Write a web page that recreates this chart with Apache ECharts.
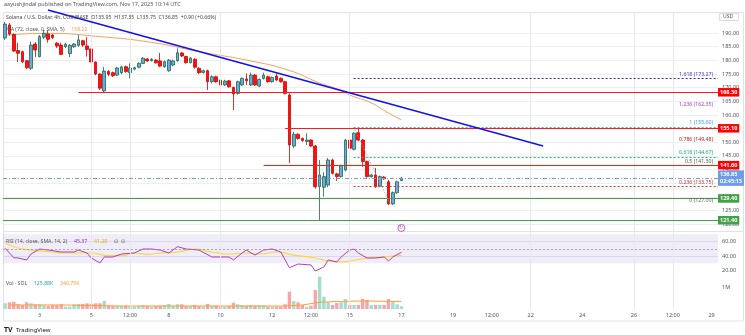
<!DOCTYPE html>
<html><head><meta charset="utf-8">
<script src="https://cdn.jsdelivr.net/npm/echarts@6/dist/echarts.min.js"></script>
<style>html,body{margin:0;padding:0;background:#fff}#c{width:745px;height:335px}</style>
</head><body><div id="c"></div>
<script>
// ---------- data ----------
const slotCount = 166;
const candleOpen  = [188.2,193.0,189.5,183.6,183.2,179.9,177.1,186.0,181.4,188.5,189.7,189.3,186.3,185.6,185.0,182.5,185.0,185.5,187.2,185.3,184.2,179.4,175.0,168.8,175.9,175.5,174.6,175.5,177.7,175.5,176.8,177.5,178.9,180.5,179.9,180.1,179.8,177.7,176.2,178.3,179.9,182.7,181.4,179.2,180.4,177.1,175.6,176.2,172.2,174.0,172.8,171.0,172.5,170.1,167.9,171.0,173.2,171.0,174.6,170.6,173.4,174.0,172.2,174.3,173.4,172.2,167.3,148.6,152.9,151.4,150.3,150.8,148.6,133.7,133.5,134.3,143.5,138.4,137.4,139.8,150.8,147.4,153.5,150.8,142.9,137.4,138.0,133.9,137.2,135.5,127.4,131.5,135.95];
const candleHigh  = [194.1,193.7,189.9,186.4,183.6,180.1,186.8,186.7,189.3,191.1,191.1,189.7,186.7,186.5,186.5,186.0,186.4,189.3,187.5,188.6,184.9,179.6,175.2,177.6,176.5,175.9,177.6,178.0,178.1,178.9,177.7,179.3,181.2,180.9,180.8,180.5,182.7,180.0,180.5,180.3,184.4,183.1,181.7,181.2,180.8,177.5,176.6,176.6,174.5,174.4,173.2,172.9,172.8,170.4,172.5,173.8,175.2,175.5,175.0,173.4,175.5,174.4,174.1,175.2,173.8,172.5,167.9,153.8,153.3,151.7,153.3,151.2,149.0,143.5,139.0,144.2,144.0,138.8,141.8,151.2,151.0,153.7,155.2,151.2,143.3,138.4,140.6,137.8,137.6,136.2,131.9,135.9,137.35];
const candleLow   = [187.5,189.0,183.1,179.4,179.0,176.8,176.5,181.2,181.1,187.8,186.5,187.8,184.5,182.0,184.5,181.2,184.6,184.9,185.0,181.4,178.7,174.6,169.1,168.0,174.2,173.9,174.2,175.0,175.5,173.4,176.4,177.1,178.6,179.5,179.6,178.8,177.5,177.3,175.8,177.9,179.5,181.2,178.8,178.8,177.0,175.0,175.1,169.1,171.5,171.8,169.1,170.6,170.0,161.8,167.5,170.6,171.0,170.6,170.6,170.2,173.0,171.8,171.8,172.4,171.8,167.5,142.4,147.9,151.0,150.2,149.0,148.2,133.0,121.5,130.0,133.5,138.2,135.8,137.0,139.4,147.4,147.0,150.4,141.0,137.0,137.0,133.3,133.5,136.2,127.0,127.0,131.1,135.75];
const candleClose = [193.3,189.7,183.4,182.6,179.5,177.3,185.6,183.8,188.7,189.9,187.7,188.4,185.3,182.2,185.9,185.5,186.0,187.5,185.6,184.0,179.4,175.0,169.8,176.1,174.9,174.4,177.2,177.6,175.9,177.2,177.3,178.9,180.8,179.8,180.4,179.1,177.9,179.5,180.1,179.8,182.8,181.6,179.2,180.8,177.5,175.5,176.2,172.2,174.0,172.2,171.0,172.4,170.3,167.7,172.2,173.4,172.5,174.6,171.0,173.0,174.6,172.2,173.7,172.8,172.2,167.9,149.0,152.9,151.4,150.6,150.8,148.6,133.7,138.0,137.4,143.5,138.6,137.4,141.4,150.8,147.8,153.3,150.8,142.9,137.4,138.0,133.7,137.4,136.6,127.4,131.5,135.5,136.85];
const volumeK = [259,305,332,214,182,305,259,214,214,182,137,182,182,214,105,105,214,228,228,259,228,259,259,364,150,137,137,137,150,137,105,137,182,137,105,137,150,182,228,137,214,214,137,137,182,137,105,228,137,150,137,105,137,287,214,182,137,182,150,168,168,105,105,105,105,214,787,364,305,182,105,150,865,1470,560,305,182,273,305,455,182,182,182,455,410,182,182,182,182,455,364,214,125.88];
const maPoints = [[0,189.3],[10,189.9],[22,188.7],[34,186.6],[45,183.2],[57,179.8],[66,176.3],[73,171.7],[78,169.0],[80,167.3],[85,164.4],[89,160.7],[92,158.22]];
const rsiPoints = [[0,50.7],[1,44.2],[2,37.7],[3,37.3],[5,34.6],[6,42.8],[8,49.7],[10,48.3],[13,45.6],[16,45.6],[17,48.3],[19,44.2],[20,37.3],[22,30.4],[23,38.7],[25,38.7],[27,42.8],[30,44.2],[32,49.7],[34,49.7],[36,48.3],[38,44.2],[40,52.9],[42,49.7],[45,48.3],[48,38.7],[50,38.7],[52,38.7],[53,34.6],[55,44.2],[56,48.3],[58,41.4],[60,48.3],[62,49.7],[64,45.6],[66,23.9],[68,29.0],[71,27.7],[72,19.4],[74,24.9],[75,34.6],[77,31.8],[78,38.7],[80,48.3],[81,49.7],[82,44.2],[84,37.3],[86,37.3],[88,38.7],[89,33.2],[90,38.7],[92,45.37]];
const rsiMaPoints = [[0,58.0],[3,51.1],[6,48.3],[11,45.6],[14,44.2],[20,44.2],[24,40.5],[27,40.5],[30,44.2],[33,42.4],[36,44.2],[40,45.6],[44,49.7],[48,45.6],[52,42.8],[56,44.2],[59,42.8],[63,45.6],[67,41.4],[72,37.3],[77,31.8],[80,33.2],[84,37.3],[88,38.7],[92,41.28]];
const volMaPoints = [[1,182],[13,182],[27,137],[45,137],[65,137],[69,182],[73,305],[77,341],[83,364],[92,340.75]];
const xTickIdx  = [8,20,29,38,50,62,71,80,92,104,113,122,134,146,155,164];
const xTickText = ['3','5','12:00','8','10','12','12:00','15','17','19','12:00','22','24','26','12:00','29'];
const xGridIdx  = [20,29,50,80,122,146,155];
const redLevels = [168.30,155.10,141.60];
const redStartIdx = [17,65,60];
const greenLevels = [129.40,121.40];
const lastPrice = 136.85;
const fibRatios = ['1.618','1.236','1','0.786','0.618','0.5','0.236','0'];
const fibValues = [173.27,162.35,155.60,149.48,144.67,141.30,133.75,127.00];
const fibLineColors = ['#2b2bd6',null,'#4aa8e8',null,'#22b58c',null,'#e53935',null];
const fibTextColors = ['#3a3ad0','#9c3fc0','#3b9be0','#b71c1c','#1ea37c','#555','#d32f2f','#666'];
const fibStartIdx = 80.9;
const fibDiagonal = [[80.9,155.6],[89.5,127.0]];
const trendLine = [[9.95,198.47],[124.9,148.6]];

// ---------- build ----------
const FONT = 'Noto Sans';
const TXT = '#50535e';
const cats = Array.from({length:slotCount},(_,i)=>String(i));
const labelCats = Array.from({length:slotCount},(_,i)=>{const k=xTickIdx.indexOf(i);return k>=0?xTickText[k]:'';});
const candles = candleOpen.map((o,i)=>[o,candleClose[i],candleLow[i],candleHigh[i]]);
const volBars = volumeK.map((v,i)=>({value:v,itemStyle:{color:candleClose[i]>=candleOpen[i]?'#a6dccd':'#f5a6a9'}}));
const END = slotCount-0.5;

const boxLabel = (txt,bg)=>({show:true,position:'end',distance:0,formatter:txt,backgroundColor:bg,color:'#fff',fontSize:5.5,fontWeight:'bold',fontFamily:FONT,padding:[1.5,2,1,2]});
const levelLines = [];
redLevels.forEach((v,k)=>levelLines.push([{coord:[redStartIdx[k],v],lineStyle:{color:'#ff1a1a',width:1.2,type:'solid'},label:boxLabel(v.toFixed(2),'#ff0000')},{coord:[END,v]}]));
greenLevels.forEach(v=>levelLines.push([{coord:[-0.5,v],lineStyle:{color:'#43a047',width:1.2,type:'solid'},label:boxLabel(v.toFixed(2),'#43a047')},{coord:[END,v]}]));
levelLines.push([{coord:[-0.5,lastPrice],lineStyle:{color:'#6f9ce8',width:1,type:[4,2,1,2]},label:Object.assign(boxLabel(lastPrice.toFixed(2)+'\n02:45:13','#6f9ce8'),{lineHeight:6.5})},{coord:[END,lastPrice]}]);
fibValues.forEach((v,k)=>{
  const lc = fibLineColors[k];
  levelLines.push([{coord:[fibStartIdx,v],lineStyle:{color:lc||'rgba(255,255,255,0)',width:1,type:[2,2]},
    label:{show:true,position:'insideEndTop',distance:[5,1.5],formatter:fibRatios[k]+' ('+v.toFixed(2)+')',color:fibTextColors[k],fontSize:5.2,fontFamily:FONT}},{coord:[END,v]}]);
});
levelLines.push([{coord:trendLine[0],lineStyle:{color:'#1212f0',width:1.6,type:'solid'},label:{show:false}},{coord:trendLine[1]}]);
levelLines.push([{coord:fibDiagonal[0],lineStyle:{color:'#9a9a9a',width:0.8,type:[1.5,1.5]},label:{show:false}},{coord:fibDiagonal[1]}]);

const mainSplitColors = Array.from({length:17},(_,k)=>k>=15?'rgba(0,0,0,0)':'#eceef2');
const chart = echarts.init(document.getElementById('c'),null,{renderer:'canvas'});
chart.setOption({
  animation:false,
  backgroundColor:'#fff',
  textStyle:{fontFamily:FONT},
  grid:[
    {left:3,right:27,top:5.81,height:218.28},
    {left:3,right:27,top:227.05,height:58},
    {left:3,right:27,top:276,height:33},
    {left:3,right:27,top:12.5,height:296.5}
  ],
  xAxis:[
    {type:'category',gridIndex:0,data:cats,boundaryGap:true,show:false},
    {type:'value',gridIndex:0,min:-0.5,max:END,show:false},
    {type:'value',gridIndex:1,min:-0.5,max:END,show:false},
    {type:'category',gridIndex:2,data:labelCats,boundaryGap:true,axisLine:{show:false},axisTick:{show:false},splitLine:{show:false},
      axisLabel:{interval:0,fontSize:5.5,color:TXT,margin:3,fontFamily:FONT}},
    {type:'value',gridIndex:2,min:-0.5,max:END,show:false},
    {type:'value',gridIndex:3,min:-0.5,max:END,show:false}
  ],
  yAxis:[
    {type:'value',gridIndex:0,min:120,max:200,interval:5,position:'right',axisLine:{show:false},axisTick:{show:false},
      axisLabel:{fontSize:5.5,color:TXT,margin:4,fontFamily:FONT,formatter:v=>v>=195?'':v.toFixed(2)},
      splitLine:{show:true,showMaxLine:false,lineStyle:{color:mainSplitColors,width:1}}},
    {type:'value',gridIndex:1,min:0,max:80,interval:20,position:'right',axisLine:{show:false},axisTick:{show:false},
      axisLabel:{fontSize:5.5,color:TXT,margin:4,fontFamily:FONT,formatter:v=>(v===20||v===40||v===60)?v.toFixed(2):''},
      splitLine:{show:true,showMinLine:false,showMaxLine:false,lineStyle:{color:['rgba(0,0,0,0)','#e6e8ee','#e6e8ee','#e6e8ee','rgba(0,0,0,0)'],width:1}}},
    {type:'value',gridIndex:2,min:0,max:1500,interval:500,position:'right',axisLine:{show:false},axisTick:{show:false},splitLine:{show:false},
      axisLabel:{fontSize:5.5,color:TXT,margin:4,fontFamily:FONT,formatter:v=>v===1000?'1M':''}},
    {type:'value',gridIndex:3,min:0,max:1,show:false}
  ],
  series:[
    {type:'line',xAxisIndex:5,yAxisIndex:3,data:[],z:0,silent:true,
      markLine:{silent:true,symbol:['none','none'],label:{show:false},lineStyle:{color:'#e6e8ee',width:1,type:'solid'},
        data:xGridIdx.map(i=>({xAxis:i}))}},
    {type:'candlestick',xAxisIndex:0,yAxisIndex:0,data:candles,barWidth:3.2,z:4,
      itemStyle:{color:'#6aa6f2',borderColor:'#1f6a35',color0:'#ff1010',borderColor0:'#d40000',borderWidth:0.8}},
    {type:'line',xAxisIndex:1,yAxisIndex:0,data:maPoints,smooth:true,symbol:'none',z:3,lineStyle:{color:'#f5a05a',width:1}},
    {type:'line',xAxisIndex:1,yAxisIndex:0,data:[],z:5,silent:true,
      markLine:{silent:true,symbol:['none','none'],data:levelLines}},
    {type:'line',xAxisIndex:2,yAxisIndex:1,data:rsiPoints,symbol:'none',z:4,lineStyle:{color:'#a12fb5',width:0.9},
      markArea:{silent:true,itemStyle:{color:'rgba(149,117,205,0.14)'},data:[[{yAxis:30},{yAxis:70}]]},
      markLine:{silent:true,symbol:['none','none'],label:{show:false},lineStyle:{color:'#9598a1',width:0.8,type:[2,2]},data:[{yAxis:50}]}},
    {type:'line',xAxisIndex:2,yAxisIndex:1,data:rsiMaPoints,smooth:true,symbol:'none',z:3,lineStyle:{color:'#fdd835',width:1.2}},
    {type:'scatter',xAxisIndex:2,yAxisIndex:1,data:[[92,78.7]],symbol:'circle',symbolSize:7,z:6,
      itemStyle:{color:'#fff',borderColor:'#9c27b0',borderWidth:0.9},
      label:{show:true,position:'inside',formatter:'↻',color:'#9c27b0',fontSize:5}},
    {type:'bar',xAxisIndex:3,yAxisIndex:2,data:volBars,barWidth:3.4,z:2},
    {type:'line',xAxisIndex:4,yAxisIndex:2,data:volMaPoints,symbol:'none',z:3,lineStyle:{color:'#ff9d3a',width:1}}
  ],
  graphic:[
    {type:'rect',shape:{x:3.5,y:12.5,width:740,height:308.5},style:{fill:'none',stroke:'#e0e3eb',lineWidth:1},z:1,silent:true},
    {type:'line',shape:{x1:3.5,y1:231.5,x2:743.5,y2:231.5},style:{stroke:'#e0e3eb',lineWidth:1},silent:true},
    {type:'text',left:4,top:1.5,style:{text:'aayushjindal published on TradingView.com, Nov 17, 2025 10:14 UTC',fill:TXT,fontSize:5.5,fontFamily:FONT}},
    {type:'text',left:6,top:15,z:10,style:{text:'Solana / U.S. Dollar, 4h, COINBASE  O135.95  H137.35  L135.75  C136.85  +0.90 (+0.66%)',fill:'#444',fontSize:5.2,fontFamily:FONT}},
    {type:'text',left:6,top:23.5,z:10,style:{rich:{a:{fill:'#555',fontSize:5.2,fontFamily:FONT},b:{fill:'#f5a05a',fontSize:5.2,fontFamily:FONT}},text:'{a|MA (72, close, 0, SMA, 5)}  {b|158.22}'}},
    {type:'text',left:6,top:236,z:10,style:{rich:{a:{fill:'#555',fontSize:5.2,fontFamily:FONT},p:{fill:'#a12fb5',fontSize:5.2,fontFamily:FONT},y:{fill:'#e0b800',fontSize:5.2,fontFamily:FONT}},text:'{a|RSI (14, close, SMA, 14, 2)}  {p|45.37}  {y|41.28}  {a|∅  ∅}'}},
    {type:'text',left:6,top:278,z:10,style:{rich:{a:{fill:'#555',fontSize:5.2,fontFamily:FONT},g:{fill:'#26a69a',fontSize:5.2,fontFamily:FONT},o:{fill:'#ff9d3a',fontSize:5.2,fontFamily:FONT}},text:'{a|Vol · SOL}  {g|125.88K}  {o|340.75K}'}},
    {type:'rect',shape:{x:719.5,y:13.5,width:19,height:7},style:{fill:'#fff',stroke:'#d0d3da',lineWidth:0.8},z:10},
    {type:'text',left:723,top:14.5,z:11,style:{text:'USD',fill:TXT,fontSize:5,fontFamily:FONT}},
    {type:'text',left:4,top:324,style:{rich:{t:{fill:'#131722',fontSize:7,fontWeight:'bold',fontFamily:FONT},n:{fill:'#131722',fontSize:6,fontFamily:FONT}},text:'{t|TV} {n|TradingView}'}}
  ]
});
</script></body></html>
